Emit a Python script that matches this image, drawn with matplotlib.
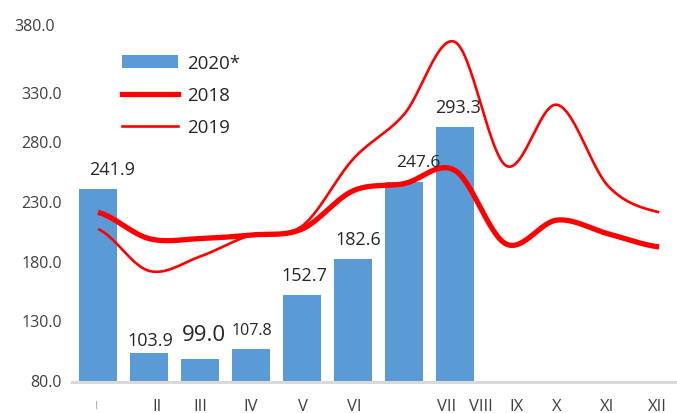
import numpy as np
import matplotlib
matplotlib.use("Agg")
import matplotlib.pyplot as plt
from matplotlib.patches import Patch
from matplotlib.lines import Line2D

plt.rcParams['font.family'] = ['Open Sans', 'DejaVu Sans']

# ---- data ----
months = ["I", "II", "III", "IV", "V", "VI", "VII", "VIII", "IX", "X", "XI", "XII"]
values_2020 = [241.9, 103.9, 99.0, 107.8, 152.7, 182.6, 247.6, 293.3]
values_2018 = [222, 200, 200, 203, 208, 240, 246, 257, 195.5, 215.5, 204, 193]
values_2019 = [208, 173, 185, 203, 210.5, 266.5, 304, 364.5, 261, 312, 244, 222]
bar_labels = ["241.9", "103.9", "99.0", "107.8", "152.7", "182.6", "247.6", "293.3"]
ytick_labels = ["80.0", "130.0", "180.0", "230.0", "280.0", "330.0", "380.0"]

# tick label placement (x in category units) as in the reference
xlabel_text = ["I", "II", "III", "IV", "V", "VI", "VII", "VIII", "IX", "X", "XI", "XII"]
xlabel_pos = [-0.03, 1.16, 2.0, 3.0, 4.02, 5.02, 6.84, 7.51, 8.2, 9.0, 9.98, 10.96]

BLUE = "#5B9BD5"
RED = "#FF0000"


def smooth(y, n=30):
    """Catmull-Rom style smoothing through the points (Excel-like smoothed line)."""
    y = np.asarray(y, float)
    x = np.arange(len(y), dtype=float)
    xs, ys = [], []
    for i in range(len(y) - 1):
        p0 = y[i - 1] if i > 0 else y[i]
        p1, p2 = y[i], y[i + 1]
        p3 = y[i + 2] if i + 2 < len(y) else y[i + 1]
        t = np.linspace(0, 1, n, endpoint=False)
        yy = 0.5 * ((2 * p1) + (-p0 + p2) * t + (2 * p0 - 5 * p1 + 4 * p2 - p3) * t ** 2
                    + (-p0 + 3 * p1 - 3 * p2 + p3) * t ** 3)
        xs.append(x[i] + t)
        ys.append(yy)
    xs.append([x[-1]])
    ys.append([y[-1]])
    return np.concatenate(xs), np.concatenate(ys)


W, H = 677, 414
AX_TOP, AX_BOT = 24.5, 383
fig = plt.figure(figsize=(W / 100, H / 100), dpi=100)
ax = fig.add_axes([72 / W, 1 - AX_BOT / H, 605 / W, (AX_BOT - AX_TOP) / H])

x_bars = np.arange(len(values_2020))
ax.bar(x_bars, values_2020, width=0.75, color=BLUE, zorder=2)

xs, ys = smooth(values_2018)
ax.plot(xs, ys, color=RED, lw=3.8, zorder=3, solid_capstyle='butt')
xs, ys = smooth(values_2019)
ax.plot(xs, ys, color=RED, lw=1.9, zorder=3, solid_capstyle='butt')

ax.set_xlim(-0.51, 11.35)
ax.set_ylim(80, 380)

# data labels
label_dx = [10, 1, 3, 0.5, 2, 4, 10, 2]
label_dy = [14, 10, 17.5, 13.5, 14.5, 14.5, 14.5, 14.5]
label_fs = [13, 13, 16, 11.5, 13, 13, 12.5, 13]
for i, (v, t) in enumerate(zip(values_2020, bar_labels)):
    ax.annotate(t, (i, v), xytext=(label_dx[i], label_dy[i]), textcoords="offset points",
                ha="center", va="center", fontsize=label_fs[i], color="#262626")

# axes styling
for s in ["top", "right", "left"]:
    ax.spines[s].set_visible(False)
ax.spines["bottom"].set_color("#D9D9D9")
ax.spines["bottom"].set_linewidth(2.2)
ax.spines["bottom"].set_zorder(4)

ax.set_xticks([])
ax.set_yticks([])


def yfrac(py):
    return (AX_BOT - py) / (AX_BOT - AX_TOP)


for t, p in zip(xlabel_text, xlabel_pos):
    if t == "I":
        ax.text(p, yfrac(401), t, transform=ax.get_xaxis_transform(), ha="center", va="top",
                fontsize=8, color="#A6A6A6")
    else:
        ax.text(p, yfrac(399), t, transform=ax.get_xaxis_transform(), ha="center", va="top",
                fontsize=12, color="#404040")

ytick_pix = [383, 323, 264, 204, 144, 95, 27]
ytick_xright = [62, 62, 62, 62, 62, 62, 55]
for lab, py, px in zip(ytick_labels, ytick_pix, ytick_xright):
    fig.text(px / W, 1 - py / H, lab, ha="right", va="center", fontsize=11.5, color="#404040")

handles = [Patch(facecolor=BLUE, edgecolor="none"),
           Line2D([], [], color=RED, lw=3.8),
           Line2D([], [], color=RED, lw=1.9)]
labels = ["2020*", "2018", "2019"]
leg = ax.legend(handles, labels, loc="upper left",
                bbox_to_anchor=((122 - 72) / 605, yfrac(55)),
                frameon=False, fontsize=13.5, handlelength=3.0, labelspacing=0.75,
                handletextpad=0.45, borderaxespad=0, borderpad=0)
for txt in leg.get_texts():
    txt.set_color("#262626")

fig.savefig("out.png", dpi=100)
